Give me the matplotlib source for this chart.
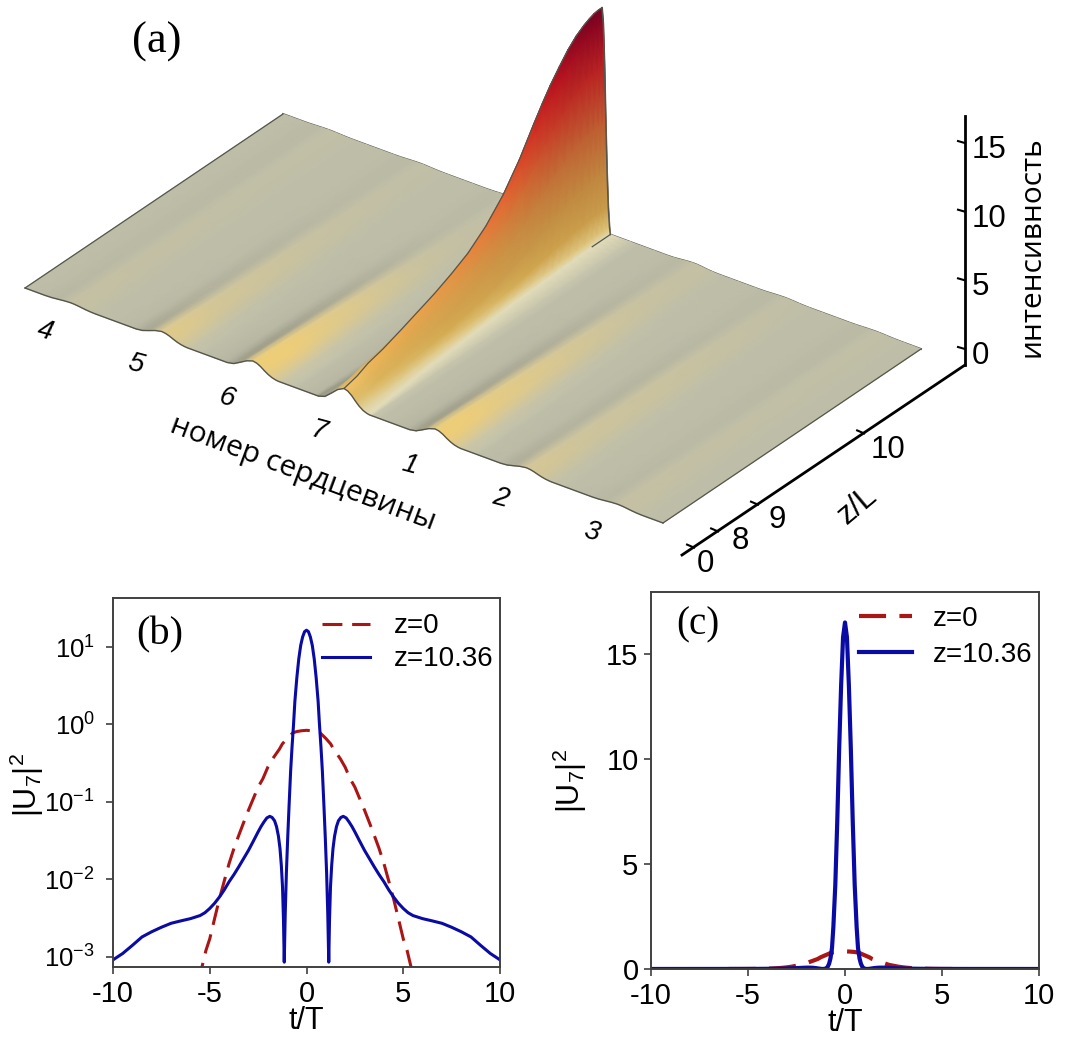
import numpy as np
import matplotlib
matplotlib.use("Agg")
import matplotlib.pyplot as plt

plt.rcParams['font.family'] = ['Liberation Sans', 'DejaVu Sans']
plt.rcParams['mathtext.default'] = 'regular'
plt.rcParams['axes.unicode_minus'] = False

W, H = 1074, 1037

# --- panel (a): surface ---
core_names = ['4', '5', '6', '7', '1', '2', '3']
row_v = np.array([0, .05, .093, .15, .22, .285, .35, .415, .48, .55, .616, .68, .736, .77, .8, .835, .868, .9, .93, .95, .97, .985, 1])
crest = np.array([1.24, 1.5, 1.9, 2.2, 2.7, 3.2, 3.7, 4.3, 5, 6.1, 7.5, 9.3, 11.2, 12.3, 13.2, 14.1, 14.9, 15.5, 15.9, 16.1, 16.25, 16.3, 16.3])
crest_width = np.array([.04, .038, .036, .034, .03, .028, .026, .024, .022, .02, .018, .017, .016, .016, .015, .015, .014, .014, .013, .013, .013, .013, .013])
amp_core4 = [.15, .15, .14, .13, .12, .11, .11, .1, .1, .09, .09, .08, .08, .07, .07, .07, .06, .06, .06, .06, .06, .06, .06]
amp_core5 = [.5, .47, .44, .38, .32, .3, .27, .24, .22, .18, .16, .14, .13, .12, .11, .1, .09, .08, .07, .07, .07, .07, .07]
amp_core6 = [.8, .76, .72, .66, .58, .52, .46, .4, .34, .28, .22, .18, .15, .13, .12, .1, .09, .08, .07, .07, .07, .07, .07]
amp_core1 = [.74, .72, .68, .63, .56, .52, .47, .42, .38, .33, .29, .25, .22, .2, .18, .17, .16, .15, .14, .14, .14, .14, .14]
amp_core2 = [.36, .35, .33, .3, .27, .26, .24, .23, .22, .2, .18, .16, .15, .14, .13, .12, .11, .1, .09, .08, .08, .08, .08]
amp_core3 = [.15, .15, .14, .13, .12, .11, .11, .1, .1, .09, .09, .08, .08, .07, .07, .07, .06, .06, .06, .06, .06, .06, .06]
side_amps = {0: amp_core4, 1: amp_core5, 2: amp_core6, 4: amp_core1, 5: amp_core2, 6: amp_core3}

# cross section of one core ridge
bump_pos = np.array([-1, -.75, -.5, -.25, 0, .15, .3, .45, .6, .75, .9, 1])
bump_rel = np.array([0, .12, .45, .8, 1, .93, .75, .5, .28, .12, .03, 0])
bump_lum = np.array([-.06, -.14, -.18, -.08, .08, .05, .05, .05, .05, .05, .05, .05])
bump_yel = np.array([0, 0, .1, .4, .85, 1, 1, .95, .8, .6, .4, .3])
gap_left = np.array([-.0714, -.06, -.045])
gap_right = np.array([.045, .06])
gap_left_lum = np.array([0, -.01, -.03])
gap_right_lum = np.array([.04, .03])
gap_right_yel = np.array([.15, .04])
gap_left_yel = np.array([0, 0, 0])

# ridge colours against intensity
cmap_i = [0, .5, 1, 2, 4, 7, 10, 13, 16.5]
flank_rgb = np.array([(226, 220, 185), (222, 195, 120), (210, 170, 80), (200, 155, 75), (190, 140, 65),
                      (180, 110, 55), (175, 70, 45), (165, 30, 35), (115, 0, 35)]) / 255
crest_rgb = np.array([(215, 190, 130), (228, 195, 110), (240, 200, 110), (238, 180, 85), (232, 150, 70),
                      (232, 105, 50), (215, 55, 35), (190, 20, 30), (115, 0, 35)]) / 255
greige = np.array([189, 189, 168]) / 255
yellow = np.array([238, 205, 120]) / 255
pale = np.array([228, 222, 188]) / 255

# axis furniture
int_ticks = [0, 5, 10, 15]
zl_labels = ['0', '8', '9', '10']
zl_frac = [.039, .124, .265, .64]

# --- panels (b), (c) ---
t_blue = [0, .1, .2, .3, .4, .5, .6, .67, .75, .82, .9, .97, 1.04, 1.1, 1.15, 1.19, 1.24, 1.3, 1.37, 1.45, 1.55, 1.65, 1.78, 1.9, 2.05, 2.2, 2.35, 2.5, 2.75, 3, 3.25, 3.5, 3.75, 4, 4.25, 4.5, 4.75, 5, 5.25, 5.5, 6, 6.5, 7, 7.5, 8, 8.5, 9, 9.5, 10]
u_blue = [16.5, 15.8, 13.5, 10.5, 7, 4, 2, 1, .5, .25, .09, .035, .012, .0035, .00085, .003, .008, .015, .025, .036, .048, .057, .063, .065, .062, .055, .048, .041, .031, .0236, .0185, .0145, .0115, .0093, .0073, .0059, .0049, .0042, .0037, .0034, .0031, .0029, .0027, .0024, .0021, .0018, .0014, .0011, .00091]
t_red = [0, .25, .5, .7, 1, 1.25, 1.4, 1.75, 2, 2.25, 2.5, 2.75, 3, 3.25, 3.5, 3.75, 4, 4.25, 4.5, 4.75, 5, 5.2, 5.4, 6]
u_red = [.84, .83, .81, .78, .66, .56, .48, .36, .28, .2, .155, .11, .078, .054, .037, .025, .016, .0095, .0056, .0031, .0017, .0012, .00074, .0002]
x_ticks = [-10, -5, 0, 5, 10]
b_y_ticks = [1e-3, 1e-2, 1e-1, 1, 10]
b_y_labels = ['$10^{-3}$', '$10^{-2}$', '$10^{-1}$', '$10^{0}$', '$10^{1}$']
c_y_ticks = [0, 5, 10, 15]
RED = '#aa1515'
BLUE = '#0a0aa5'
GRID = '#404040'


def project(s, v, i):
    # image is an orthographic view, so one affine map is enough
    return 25 + 638 * s + 258 * v, 288 + 235 * s - 174 * v - 13.73 * i


def interp_rgb(vals, table):
    return np.stack([np.interp(vals, cmap_i, table[:, k]) for k in range(3)], axis=-1)


def build_surface():
    n_rows = len(row_v)
    S, Z, C = [], [], []
    for c in range(7):
        center = (c + .5) / 7
        n_col = len(gap_left) + len(bump_pos) + len(gap_right)
        if c == 6:
            n_col += 1
        s_part = np.zeros((n_rows, n_col))
        z_part = np.zeros((n_rows, n_col))
        c_part = np.zeros((n_rows, n_col, 3))
        for r in range(n_rows):
            w = crest_width[r] if c == 3 else .04
            a = crest[r] if c == 3 else side_amps[c][r]
            offs = np.concatenate([gap_left, bump_pos * w, gap_right])
            rel = np.concatenate([np.zeros(3), bump_rel, np.zeros(2)])
            lum = np.concatenate([gap_left_lum, bump_lum, gap_right_lum])
            yel = np.concatenate([gap_left_yel, bump_yel, gap_right_yel])
            if c == 6:
                offs = np.append(offs, .0714)
                rel = np.append(rel, 0)
                lum = np.append(lum, 0)
                yel = np.append(yel, 0)
            s_part[r] = center + offs
            z_part[r] = a * rel
            if c == 3:
                i_val = z_part[r]
                t = rel ** 2
                rgb = interp_rgb(i_val, flank_rgb) * (1 - t[:, None]) + interp_rgb(i_val, crest_rgb) * t[:, None]
                left = offs < 0
                rgb[left] = rgb[left] * rel[left, None] + greige * .82 * (1 - rel[left, None])
                rgb[:3] = greige * (1 + gap_left_lum[:, None])
                rgb[-2] = pale * .25 + greige * .75
                rgb[-1] = greige
            else:
                st = min((a / .7) ** 1.3, 1.0)
                st_lum = max(st, .1)
                st_yel = max(st, .06)
                rgb = greige * (1 + lum[:, None] * st_lum)
                rgb = rgb * (1 - yel[:, None] * st_yel) + yellow * yel[:, None] * st_yel
            c_part[r] = np.clip(rgb, 0, 1)
        S.append(s_part)
        Z.append(z_part)
        C.append(c_part)
    return np.hstack(S), np.hstack(Z), np.hstack(C)


fig = plt.figure(figsize=(W / 100, H / 100), dpi=100)
ax0 = fig.add_axes([0, 0, 1, 1])
ax0.set_xlim(0, W)
ax0.set_ylim(H, 0)
ax0.axis('off')

S, Z, C = build_surface()
V = np.repeat(row_v[:, None], S.shape[1], axis=1)
X, Y = project(S, V, Z)
edge = '#55554c'

# back edge goes under the ridge
bx, by = project(S[-1], V[-1], Z[-1])
ax0.plot(bx, by, color=edge, lw=1.4, zorder=1)

# rows from the far edge to the near one, so nearer cells paint over
rgba = np.dstack([C[::-1], np.ones(X.shape)])
ax0.pcolormesh(X[::-1], Y[::-1], rgba, shading='gouraud', zorder=2)

fx, fy = project(S[0], V[0], Z[0])
ax0.plot(fx, fy, color=edge, lw=1.0, zorder=3)
for col in [0, -1]:
    ex, ey = project(S[:, col], V[:, col], Z[:, col])
    ax0.plot(ex, ey, color=edge, lw=.9, zorder=3)

center_col = 17 * 3 + 3 + 4
cx, cy = project(S[:, center_col], V[:, center_col], Z[:, center_col])
ax0.plot(cx, cy, color=edge, lw=.9, zorder=3)
wx, wy = project(S[-1, center_col:center_col + 8], V[-1, center_col:center_col + 8], Z[-1, center_col:center_col + 8])
ax0.plot(wx, wy, color=edge, lw=1.0, zorder=3)
foot_col = center_col + 7
gx, gy = project(S[-5:, foot_col], V[-5:, foot_col], Z[-5:, foot_col])
ax0.plot(gx, gy, color=edge, lw=.9, zorder=3)

# core numbers under the front edge
for c, name in enumerate(core_names):
    lx, ly = project((c + .5) / 7, 0, 0)
    ax0.text(lx - 26, ly + 26, name, fontsize=20, style='italic', rotation=-15, ha='center', va='center')

ax0.text(157, 42, '(a)', family='Liberation Serif', fontsize=32, ha='center', va='center')
ax0.text(303, 474, 'номер сердцевины', family='Open Sans', fontsize=21.5, rotation=-20.5,
         rotation_mode='anchor', ha='center', va='center')

# intensity axis
ax0.plot([965, 965], [116, 365], color='k', lw=2)
for tick in int_ticks:
    ty = 351 - 13.73 * tick
    ax0.plot([958, 965], [ty - 4, ty - 2], color='k', lw=1.5)
    ax0.text(972, ty + 5, str(tick), fontsize=22.5, ha='left', va='center')
ax0.text(1032, 247, 'интенсивность', family='Open Sans', fontsize=21.5, rotation=90, ha='center', va='center')

# z axis
ax0.plot([682, 965], [555, 365], color='k', lw=2)
for frac, name, off in zip(zl_frac, zl_labels, [(12, 16), (23, 10), (20, 15), (25, 17)]):
    tx = 682 + 283 * frac
    ty = 555 - 190 * frac
    ax0.plot([tx - 6, tx + 1], [ty - 3, ty], color='k', lw=1.5)
    ax0.text(tx + off[0], ty + off[1], name, fontsize=22.5, ha='center', va='center')
ax0.text(858, 506, 'z/L', fontsize=22.5, rotation=40, ha='center', va='center')


def panel(left, right, top, bottom):
    return fig.add_axes([left / W, 1 - bottom / H, (right - left) / W, (bottom - top) / H])


def draw_panel(ax, lw_blue, lw_red):
    tb = np.concatenate([-np.array(t_blue[:0:-1]), t_blue])
    ub = np.concatenate([u_blue[:0:-1], u_blue])
    tr = np.concatenate([-np.array(t_red[:0:-1]), t_red])
    ur = np.concatenate([u_red[:0:-1], u_red])
    ax.plot(tr, ur, color=RED, lw=lw_red, dashes=(6.5, 3.2), label='z=0')
    ax.plot(tb, ub, color=BLUE, lw=lw_blue, label='z=10.36')
    ax.set_xlim(-10, 10)
    ax.set_xticks(x_ticks)
    ax.tick_params(labelsize=21, length=5, width=1.2, color=GRID, pad=4)
    for sp in ax.spines.values():
        sp.set_color(GRID)
        sp.set_linewidth(1.4)
    ax.set_xlabel('t/T', fontsize=22, labelpad=-1)


ax_b = panel(113, 500, 598, 967)
draw_panel(ax_b, 2.2, 2.2)
ax_b.set_yscale('log')
ax_b.set_ylim(7.36e-4, 43)
ax_b.set_yticks(b_y_ticks)
ax_b.set_yticklabels(b_y_labels)
ax_b.minorticks_off()
ax_b.tick_params(axis='y', labelsize=18.5, pad=8)
ax_b.set_ylabel('$|U_7|^2$', fontsize=22)
ax_b.yaxis.set_label_coords(-.172, .493)
ax_b.text(160, 635, '(b)', family='Liberation Serif', fontsize=29, ha='center', va='center',
          transform=ax0.transData)
ax_b.legend(loc='upper left', bbox_to_anchor=(.5, 1.0), frameon=False, fontsize=20,
            handlelength=1.75, handletextpad=.85, labelspacing=.25, borderaxespad=.15)

ax_c = panel(651, 1039, 592, 969)
draw_panel(ax_c, 3, 3)
ax_c.set_ylim(0, 17.95)
ax_c.set_yticks(c_y_ticks)
ax_c.set_ylabel('$|U_7|^2$', fontsize=22)
ax_c.yaxis.set_label_coords(-.16, .499)
ax_c.text(698, 625, '(c)', family='Liberation Serif', fontsize=28, ha='center', va='center',
          transform=ax0.transData)
ax_c.legend(loc='upper left', bbox_to_anchor=(.5, 1.0), frameon=False, fontsize=20,
            handlelength=1.9, handletextpad=.75, labelspacing=.35, borderaxespad=.1)

fig.savefig('out.png', dpi=100)
